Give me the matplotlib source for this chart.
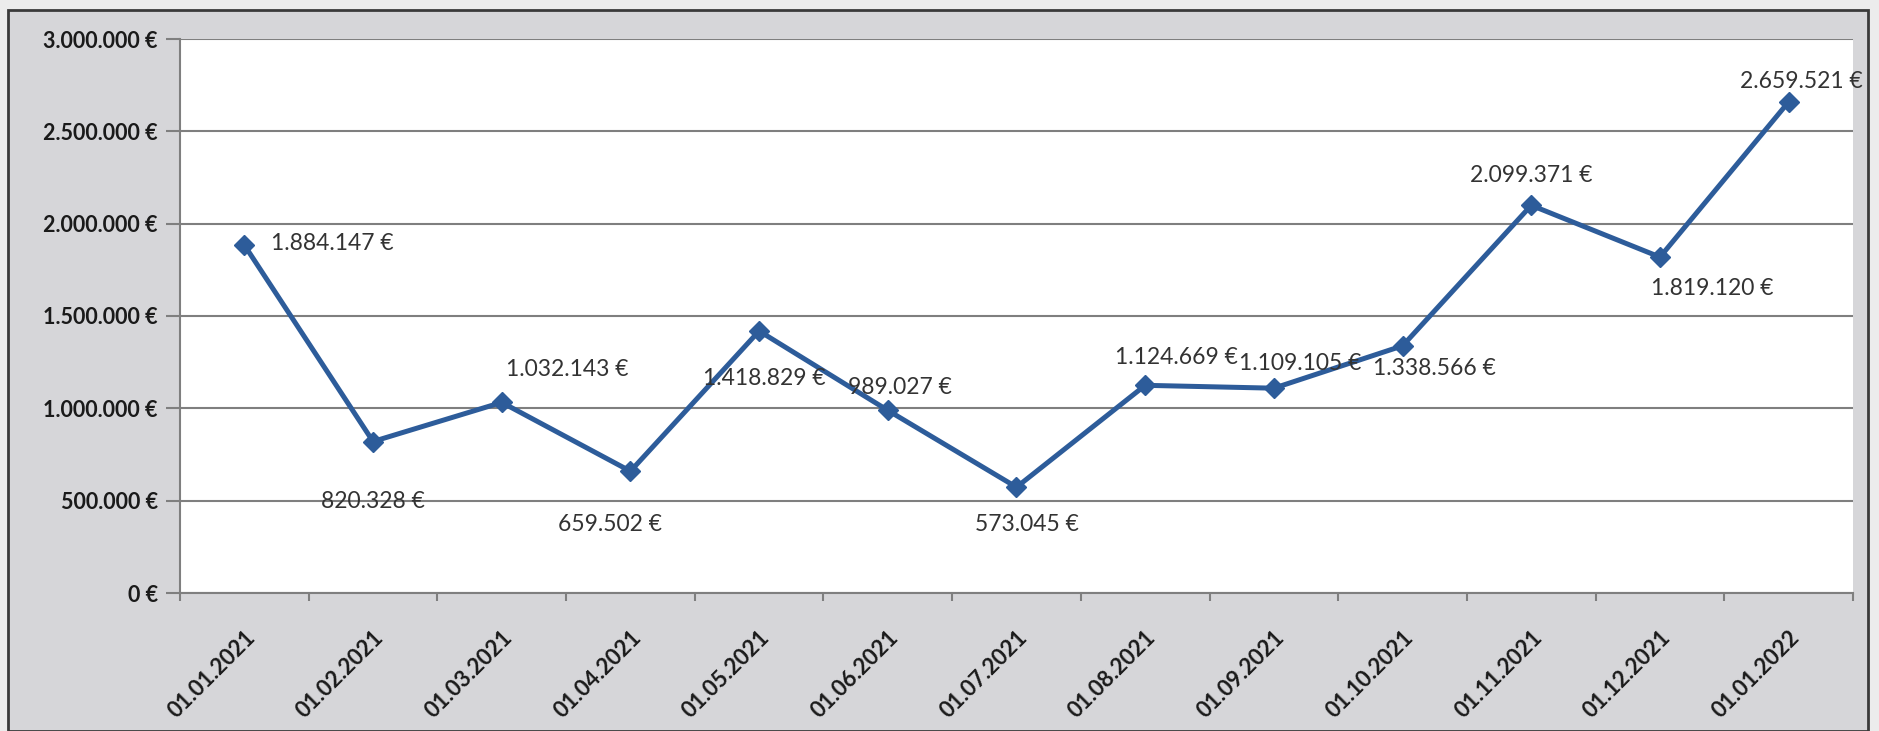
import matplotlib.pyplot as plt
from matplotlib.patches import Rectangle
from matplotlib.ticker import FuncFormatter

dates = ["01.01.2021", "01.02.2021", "01.03.2021", "01.04.2021", "01.05.2021",
         "01.06.2021", "01.07.2021", "01.08.2021", "01.09.2021", "01.10.2021",
         "01.11.2021", "01.12.2021", "01.01.2022"]
values = [1884147, 820328, 1032143, 659502, 1418829, 989027, 573045,
          1124669, 1109105, 1338566, 2099371, 1819120, 2659521]

# label offsets in pixels (dx, dy), dy positive = up
label_offsets = [(88, 2), (0, -60), (66, 33), (-20, -53), (5, -48), (12, 23),
                 (10, -37), (31, 28), (26, 25), (32, -23), (0, 30), (52, -31),
                 (13, 20)]

W, H = 1879, 731
plt.rcParams['font.family'] = ['Lato', 'DejaVu Sans']

fig = plt.figure(figsize=(W / 100, H / 100), dpi=100)
fig.patch.set_facecolor('#ececec')

# gray chart area with dark frame, kept behind the axes
frame = Rectangle((8 / W, 0), (1868 - 8) / W, (H - 10) / H, transform=fig.transFigure,
                  facecolor='#d6d6d9', edgecolor='#3a3a3a', linewidth=2, zorder=-10)
fig.patches.append(frame)

ax = fig.add_axes([180 / W, (H - 593) / H, (1853 - 180) / W, (593 - 39) / H])
ax.set_zorder(1)
ax.set_facecolor('white')

x = list(range(len(values)))
ax.plot(x, values, color='#2D5C9A', linewidth=3.6, marker='D', markersize=10,
        zorder=3, clip_on=False)

for xi, v, (dx, dy) in zip(x, values, label_offsets):
    txt = f"{v:,}".replace(",", ".") + " €"
    ax.annotate(txt, (xi, v), xytext=(dx, dy), textcoords='offset pixels',
                ha='center', va='center', fontsize=16.5, color='#333333', zorder=4)

ax.set_xlim(-0.5, len(values) - 0.5)
ax.set_ylim(0, 3000000)

ax.set_yticks(range(0, 3000001, 500000))
ax.yaxis.set_major_formatter(FuncFormatter(lambda v, p: f"{int(v):,}".replace(",", ".") + " €"))
ax.grid(axis='y', color='#7f7f7f', linewidth=1.5)
ax.set_axisbelow(True)

ax.set_xticks(x)
ax.set_xticklabels(dates, rotation=45, ha='right', va='top', rotation_mode='anchor',
                   fontweight='bold', fontsize=16, color='#1a1a1a')
ax.set_xticks([i - 0.5 for i in range(len(values) + 1)], minor=True)
ax.tick_params(axis='x', which='major', length=0, pad=24)
ax.tick_params(axis='x', which='minor', length=6, color='#7f7f7f', width=1.5)
ax.tick_params(axis='y', length=10, color='#7f7f7f', width=1.5, labelsize=15.5, pad=6,
               labelcolor='#1a1a1a')
for lbl in ax.get_yticklabels():
    lbl.set_fontweight('bold')

for s in ['top', 'right']:
    ax.spines[s].set_visible(False)
ax.spines['left'].set_color('#7f7f7f')
ax.spines['bottom'].set_color('#7f7f7f')
ax.spines['left'].set_linewidth(1.5)
ax.spines['bottom'].set_linewidth(1.5)

fig.savefig('out.png', dpi=100, facecolor=fig.get_facecolor())
